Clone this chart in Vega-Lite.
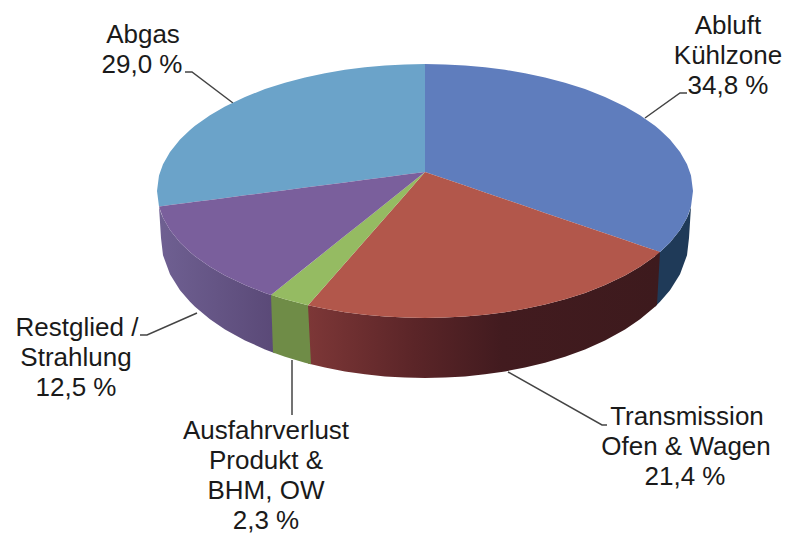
{
"$schema":"https://vega.github.io/schema/vega-lite/v6.json",
"width":804,"height":541,"padding":0,"autosize":{"type":"fit","contains":"padding"},
"background":"white","view":{"stroke":null},
"datasets":{
"faces":[
{"part":"top","slice":"Abgas","x":157,"y":191,"y2":191},{"part":"top","slice":"Abgas","x":159,"y":175.5,"y2":206.5},{"part":"top","slice":"Abgas","x":163,"y":164.3,"y2":206},{"part":"top","slice":"Abgas","x":170,"y":151.9,"y2":205.1},{"part":"top","slice":"Abgas","x":180,"y":139.5,"y2":203.8},{"part":"top","slice":"Abgas","x":190,"y":129.9,"y2":202.5},{"part":"top","slice":"Abgas","x":195,"y":125.8,"y2":201.8},{"part":"top","slice":"Abgas","x":210,"y":115.2,"y2":199.9},{"part":"top","slice":"Abgas","x":225,"y":106.5,"y2":197.9},{"part":"top","slice":"Abgas","x":245,"y":96.9,"y2":195.3},{"part":"top","slice":"Abgas","x":265,"y":89.1,"y2":192.8},{"part":"top","slice":"Abgas","x":285,"y":82.7,"y2":190.2},{"part":"top","slice":"Abgas","x":305,"y":77.4,"y2":187.6},{"part":"top","slice":"Abgas","x":325,"y":73.2,"y2":185},{"part":"top","slice":"Abgas","x":345,"y":69.8,"y2":182.4},{"part":"top","slice":"Abgas","x":365,"y":67.2,"y2":179.8},{"part":"top","slice":"Abgas","x":385,"y":65.4,"y2":177.2},{"part":"top","slice":"Abgas","x":405,"y":64.4,"y2":174.6},{"part":"top","slice":"Abgas","x":425,"y":64,"y2":172},
{"part":"top","slice":"Abluft","x":425,"y":64,"y2":172},{"part":"top","slice":"Abluft","x":445,"y":64.4,"y2":178.8},{"part":"top","slice":"Abluft","x":465,"y":65.4,"y2":185.6},{"part":"top","slice":"Abluft","x":485,"y":67.2,"y2":192.4},{"part":"top","slice":"Abluft","x":505,"y":69.8,"y2":199.2},{"part":"top","slice":"Abluft","x":525,"y":73.2,"y2":206},{"part":"top","slice":"Abluft","x":545,"y":77.4,"y2":212.9},{"part":"top","slice":"Abluft","x":565,"y":82.7,"y2":219.7},{"part":"top","slice":"Abluft","x":585,"y":89.1,"y2":226.5},{"part":"top","slice":"Abluft","x":605,"y":96.9,"y2":233.3},{"part":"top","slice":"Abluft","x":625,"y":106.5,"y2":240.1},{"part":"top","slice":"Abluft","x":640,"y":115.2,"y2":245.2},{"part":"top","slice":"Abluft","x":655,"y":125.8,"y2":250.3},{"part":"top","slice":"Abluft","x":660,"y":129.9,"y2":252.1},{"part":"top","slice":"Abluft","x":670,"y":139.5,"y2":242.5},{"part":"top","slice":"Abluft","x":680,"y":151.9,"y2":230.1},{"part":"top","slice":"Abluft","x":687,"y":164.3,"y2":217.7},{"part":"top","slice":"Abluft","x":691,"y":175.5,"y2":206.5},{"part":"top","slice":"Abluft","x":693,"y":191,"y2":191},
{"part":"top","slice":"Transmission","x":308,"y":305.3,"y2":305.3},{"part":"top","slice":"Transmission","x":325,"y":286,"y2":308.8},{"part":"top","slice":"Transmission","x":345,"y":263.3,"y2":312.2},{"part":"top","slice":"Transmission","x":365,"y":240.5,"y2":314.8},{"part":"top","slice":"Transmission","x":385,"y":217.8,"y2":316.6},{"part":"top","slice":"Transmission","x":405,"y":195,"y2":317.6},{"part":"top","slice":"Transmission","x":425,"y":172,"y2":318},{"part":"top","slice":"Transmission","x":445,"y":178.8,"y2":317.6},{"part":"top","slice":"Transmission","x":465,"y":185.6,"y2":316.6},{"part":"top","slice":"Transmission","x":485,"y":192.4,"y2":314.8},{"part":"top","slice":"Transmission","x":505,"y":199.2,"y2":312.2},{"part":"top","slice":"Transmission","x":525,"y":206,"y2":308.8},{"part":"top","slice":"Transmission","x":545,"y":212.9,"y2":304.6},{"part":"top","slice":"Transmission","x":565,"y":219.7,"y2":299.3},{"part":"top","slice":"Transmission","x":585,"y":226.5,"y2":292.9},{"part":"top","slice":"Transmission","x":605,"y":233.3,"y2":285.1},{"part":"top","slice":"Transmission","x":625,"y":240.1,"y2":275.5},{"part":"top","slice":"Transmission","x":640,"y":245.2,"y2":266.8},{"part":"top","slice":"Transmission","x":655,"y":250.3,"y2":256.2},{"part":"top","slice":"Transmission","x":660,"y":252.1,"y2":252.1},
{"part":"top","slice":"Ausfahrverlust","x":271,"y":294.9,"y2":294.9},{"part":"top","slice":"Ausfahrverlust","x":285,"y":283.7,"y2":299.3},{"part":"top","slice":"Ausfahrverlust","x":308,"y":265.4,"y2":305.3},{"part":"top","slice":"Ausfahrverlust","x":325,"y":251.8,"y2":286},{"part":"top","slice":"Ausfahrverlust","x":345,"y":235.8,"y2":263.3},{"part":"top","slice":"Ausfahrverlust","x":365,"y":219.9,"y2":240.5},{"part":"top","slice":"Ausfahrverlust","x":385,"y":203.9,"y2":217.8},{"part":"top","slice":"Ausfahrverlust","x":405,"y":188,"y2":195},{"part":"top","slice":"Ausfahrverlust","x":425,"y":172,"y2":172},
{"part":"top","slice":"Restglied","x":159,"y":206.5,"y2":206.5},{"part":"top","slice":"Restglied","x":163,"y":206,"y2":217.7},{"part":"top","slice":"Restglied","x":170,"y":205.1,"y2":230.1},{"part":"top","slice":"Restglied","x":180,"y":203.8,"y2":242.5},{"part":"top","slice":"Restglied","x":190,"y":202.5,"y2":252.1},{"part":"top","slice":"Restglied","x":195,"y":201.8,"y2":256.2},{"part":"top","slice":"Restglied","x":210,"y":199.9,"y2":266.8},{"part":"top","slice":"Restglied","x":225,"y":197.9,"y2":275.5},{"part":"top","slice":"Restglied","x":245,"y":195.3,"y2":285.1},{"part":"top","slice":"Restglied","x":265,"y":192.8,"y2":292.9},{"part":"top","slice":"Restglied","x":271,"y":192,"y2":294.9},{"part":"top","slice":"Restglied","x":285,"y":190.2,"y2":283.7},{"part":"top","slice":"Restglied","x":305,"y":187.6,"y2":267.8},{"part":"top","slice":"Restglied","x":325,"y":185,"y2":251.8},{"part":"top","slice":"Restglied","x":345,"y":182.4,"y2":235.8},{"part":"top","slice":"Restglied","x":365,"y":179.8,"y2":219.9},{"part":"top","slice":"Restglied","x":385,"y":177.2,"y2":203.9},{"part":"top","slice":"Restglied","x":405,"y":174.6,"y2":188},{"part":"top","slice":"Restglied","x":425,"y":172,"y2":172},
{"part":"wall","slice":"Abluft","x":655,"y":250.3,"y2":306.7},{"part":"wall","slice":"Abluft","x":657,"y":251.3,"y2":304.8},{"part":"wall","slice":"Abluft","x":660,"y":252.1,"y2":301.8},{"part":"wall","slice":"Abluft","x":670,"y":242.5,"y2":290.2},{"part":"wall","slice":"Abluft","x":680,"y":230.1,"y2":274.2},{"part":"wall","slice":"Abluft","x":687,"y":217.7,"y2":255.2},{"part":"wall","slice":"Abluft","x":689,"y":212.9,"y2":238},{"part":"wall","slice":"Abluft","x":691,"y":206.5,"y2":206.5},
{"part":"wall","slice":"Transmission","x":308,"y":305.3,"y2":363.5},{"part":"wall","slice":"Transmission","x":325,"y":308.8,"y2":367.6},{"part":"wall","slice":"Transmission","x":345,"y":312.2,"y2":371.4},{"part":"wall","slice":"Transmission","x":365,"y":314.8,"y2":374.3},{"part":"wall","slice":"Transmission","x":385,"y":316.6,"y2":376.4},{"part":"wall","slice":"Transmission","x":405,"y":317.6,"y2":377.6},{"part":"wall","slice":"Transmission","x":425,"y":318,"y2":378},{"part":"wall","slice":"Transmission","x":445,"y":317.6,"y2":377.6},{"part":"wall","slice":"Transmission","x":465,"y":316.6,"y2":376.4},{"part":"wall","slice":"Transmission","x":485,"y":314.8,"y2":374.3},{"part":"wall","slice":"Transmission","x":505,"y":312.2,"y2":371.4},{"part":"wall","slice":"Transmission","x":525,"y":308.8,"y2":367.6},{"part":"wall","slice":"Transmission","x":545,"y":304.6,"y2":362.7},{"part":"wall","slice":"Transmission","x":565,"y":299.3,"y2":356.7},{"part":"wall","slice":"Transmission","x":585,"y":292.9,"y2":349.4},{"part":"wall","slice":"Transmission","x":605,"y":285.1,"y2":340.4},{"part":"wall","slice":"Transmission","x":625,"y":275.5,"y2":329.4},{"part":"wall","slice":"Transmission","x":640,"y":266.8,"y2":319.2},{"part":"wall","slice":"Transmission","x":655,"y":256.2,"y2":306.7},{"part":"wall","slice":"Transmission","x":657,"y":254.6,"y2":304.8},{"part":"wall","slice":"Transmission","x":660,"y":252.1,"y2":252.1},
{"part":"wall","slice":"Ausfahrverlust","x":271,"y":294.9,"y2":294.9},{"part":"wall","slice":"Ausfahrverlust","x":273,"y":295.6,"y2":352.5},{"part":"wall","slice":"Ausfahrverlust","x":285,"y":299.3,"y2":356.7},{"part":"wall","slice":"Ausfahrverlust","x":305,"y":304.6,"y2":362.7},{"part":"wall","slice":"Ausfahrverlust","x":308,"y":305.3,"y2":363.5},{"part":"wall","slice":"Ausfahrverlust","x":311,"y":364.3,"y2":364.3},
{"part":"wall","slice":"Restglied","x":159,"y":206.5,"y2":206.5},{"part":"wall","slice":"Restglied","x":161,"y":212.9,"y2":238},{"part":"wall","slice":"Restglied","x":163,"y":217.7,"y2":255.2},{"part":"wall","slice":"Restglied","x":170,"y":230.1,"y2":274.2},{"part":"wall","slice":"Restglied","x":180,"y":242.5,"y2":290.2},{"part":"wall","slice":"Restglied","x":190,"y":252.1,"y2":301.8},{"part":"wall","slice":"Restglied","x":195,"y":256.2,"y2":306.7},{"part":"wall","slice":"Restglied","x":210,"y":266.8,"y2":319.2},{"part":"wall","slice":"Restglied","x":225,"y":275.5,"y2":329.4},{"part":"wall","slice":"Restglied","x":245,"y":285.1,"y2":340.4},{"part":"wall","slice":"Restglied","x":265,"y":292.9,"y2":349.4},{"part":"wall","slice":"Restglied","x":275,"y":296.2,"y2":353.2}
],
"leaders":[
{"slice":"Abgas","x":185,"y":72},{"slice":"Abgas","x":192,"y":72},{"slice":"Abgas","x":233,"y":103},
{"slice":"Abluft","x":687,"y":93},{"slice":"Abluft","x":680,"y":93},{"slice":"Abluft","x":645,"y":118},
{"slice":"Restglied","x":140,"y":335},{"slice":"Restglied","x":147,"y":335},{"slice":"Restglied","x":197,"y":313},
{"slice":"Ausfahrverlust","x":292,"y":360},{"slice":"Ausfahrverlust","x":292,"y":415},
{"slice":"Transmission","x":508,"y":372},{"slice":"Transmission","x":602,"y":425},{"slice":"Transmission","x":607,"y":425}
],
"labels":[
{"slice":"Abgas","text":"Abgas","x":143,"y":35},{"slice":"Abgas","text":"29,0 %","x":142,"y":65},
{"slice":"Abluft","text":"Abluft","x":728,"y":26},{"slice":"Abluft","text":"Kühlzone","x":728,"y":56},{"slice":"Abluft","text":"34,8 %","x":728,"y":86},
{"slice":"Restglied","text":"Restglied /","x":77,"y":328},{"slice":"Restglied","text":"Strahlung","x":76,"y":358},{"slice":"Restglied","text":"12,5 %","x":76,"y":388},
{"slice":"Ausfahrverlust","text":"Ausfahrverlust","x":266,"y":431},{"slice":"Ausfahrverlust","text":"Produkt &","x":266,"y":461},{"slice":"Ausfahrverlust","text":"BHM, OW","x":266,"y":491},{"slice":"Ausfahrverlust","text":"2,3 %","x":266,"y":521},
{"slice":"Transmission","text":"Transmission","x":687,"y":417},{"slice":"Transmission","text":"Ofen & Wagen","x":686,"y":447},{"slice":"Transmission","text":"21,4 %","x":685,"y":477}
]
},
"encoding":{
"x":{"field":"x","type":"quantitative","axis":null,"scale":{"domain":[0,804],"nice":false,"zero":false}},
"y":{"field":"y","type":"quantitative","axis":null,"scale":{"domain":[541,0],"nice":false,"zero":false}}
},
"layer":[
{"data":{"name":"leaders"},"mark":{"type":"line","color":"#444444","strokeWidth":1.5},"encoding":{"detail":{"field":"slice"}}},
{"data":{"name":"faces"},"transform":[{"filter":"datum.part==='wall' && datum.slice==='Abluft'"}],"mark":{"type":"area","color":"#1f3a58"},"encoding":{"y2":{"field":"y2"}}},
{"data":{"name":"faces"},"transform":[{"filter":"datum.part==='wall' && datum.slice==='Restglied'"}],"mark":{"type":"area","color":{"gradient":"linear","x1":0,"y1":0,"x2":1,"y2":0,"stops":[{"offset":0,"color":"#6f6092"},{"offset":1,"color":"#5a4977"}]}},"encoding":{"y2":{"field":"y2"}}},
{"data":{"name":"faces"},"transform":[{"filter":"datum.part==='wall' && datum.slice==='Transmission'"}],"mark":{"type":"area","color":{"gradient":"linear","x1":0,"y1":0,"x2":1,"y2":0,"stops":[{"offset":0,"color":"#7d3737"},{"offset":0.3,"color":"#5b2528"},{"offset":0.55,"color":"#421b1f"},{"offset":1,"color":"#3d1a1d"}]}},"encoding":{"y2":{"field":"y2"}}},
{"data":{"name":"faces"},"transform":[{"filter":"datum.part==='wall' && datum.slice==='Ausfahrverlust'"}],"mark":{"type":"area","color":"#6f8c47"},"encoding":{"y2":{"field":"y2"}}},
{"data":{"name":"faces"},"transform":[{"filter":"datum.part==='top'"}],"mark":{"type":"area"},"encoding":{"y2":{"field":"y2"},"color":{"field":"slice","type":"nominal","legend":null,"scale":{"domain":["Abgas","Abluft","Transmission","Ausfahrverlust","Restglied"],"range":["#6ba3c9","#5f7dbd","#b2574b","#95bb62","#7a5f9c"]}}}},
{"data":{"name":"labels"},"mark":{"type":"text","font":"Liberation Sans","fontSize":26,"color":"#1a1a1a","align":"center","baseline":"middle"},"encoding":{"text":{"field":"text"}}}
]
}
